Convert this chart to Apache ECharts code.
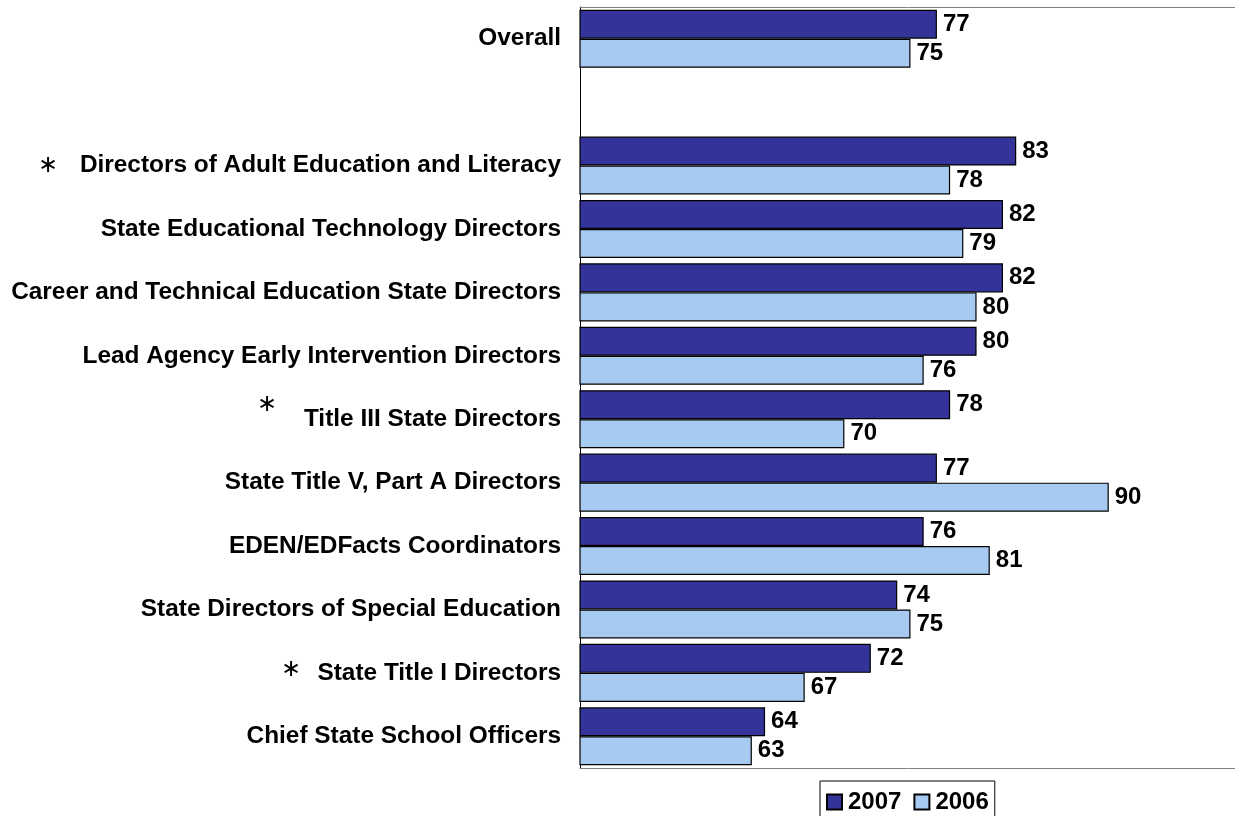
<!DOCTYPE html>
<html>
<head>
<meta charset="utf-8">
<script src="https://cdn.jsdelivr.net/npm/echarts@6/dist/echarts.min.js"></script>
<style>
  html, body { margin: 0; padding: 0; background: #ffffff; }
  #chart { width: 1235px; height: 816px; }
</style>
</head>
<body>
<div id="chart"></div>
<script>
// Respondent groups, top to bottom; the empty entry leaves a gap under "Overall"
const categories = [
  'Overall',
  '',
  'Directors of Adult Education and Literacy',
  'State Educational Technology Directors',
  'Career and Technical Education State Directors',
  'Lead Agency Early Intervention Directors',
  'Title III State Directors',
  'State Title V, Part A Directors',
  'EDEN/EDFacts Coordinators',
  'State Directors of Special Education',
  'State Title I Directors',
  'Chief State School Officers'
];
const values2007 = [77, null, 83, 82, 82, 80, 78, 77, 76, 74, 72, 64];
const values2006 = [75, null, 78, 79, 80, 76, 70, 90, 81, 75, 67, 63];
const seriesNames = ['2007', '2006'];
// Groups flagged with an asterisk next to their label
const starred = ['Directors of Adult Education and Literacy', 'Title III State Directors', 'State Title I Directors'];

const FONT = '"Liberation Sans", Arial, Helvetica, sans-serif';
const chart = echarts.init(document.getElementById('chart'), null, { renderer: 'canvas' });

const barLabel = {
  show: true,
  position: 'right',
  distance: 6,
  color: '#000000',
  fontFamily: FONT,
  fontWeight: 'bold',
  fontSize: 24
};

const hiddenValueAxis = {
  type: 'value', min: 50, max: 99.55,
  axisTick: { show: false }, axisLabel: { show: false }, splitLine: { show: false },
  axisLine: { show: true, lineStyle: { color: '#808080', width: 1 } }
};

chart.setOption({
  animation: false,
  backgroundColor: '#ffffff',
  grid: { left: 580, top: 7, right: 0, height: 761, show: false },
  xAxis: [
    Object.assign({ position: 'bottom' }, hiddenValueAxis),
    Object.assign({ position: 'top' }, hiddenValueAxis)
  ],
  yAxis: {
    type: 'category', data: categories, inverse: true,
    axisLine: { show: true, lineStyle: { color: '#000000', width: 1 } },
    axisTick: { show: false },
    axisLabel: {
      margin: 19, color: '#000000', fontFamily: FONT, fontWeight: 'bold', fontSize: 24.4,
      padding: [3, 0, 0, 0]
    }
  },
  legend: {
    data: seriesNames,
    left: 820, top: 781,
    orient: 'horizontal',
    padding: [9, 6, 8, 6],
    itemWidth: 15, itemHeight: 15, itemGap: 12,
    borderColor: '#000000', borderWidth: 1,
    icon: 'rect',
    textStyle: { color: '#000000', fontFamily: FONT, fontWeight: 'bold', fontSize: 24, padding: [0, 0, 0, 1] }
  },
  series: [
    {
      name: seriesNames[0], type: 'bar', data: values2007,
      barGap: '0%', barCategoryGap: '8.5%',
      itemStyle: { color: '#333399', borderColor: '#000000', borderWidth: 1.2 },
      label: barLabel
    },
    {
      name: seriesNames[1], type: 'bar', data: values2006,
      barGap: '0%', barCategoryGap: '8.5%',
      itemStyle: { color: '#a6caf0', borderColor: '#000000', borderWidth: 1.2 },
      label: barLabel
    }
  ]
});

// Asterisk markers placed beside the flagged labels
const starX = { 'Directors of Adult Education and Literacy': 48, 'Title III State Directors': 267, 'State Title I Directors': 291 };
const starDy = { 'Directors of Adult Education and Literacy': 0, 'Title III State Directors': -14, 'State Title I Directors': -3 };
chart.setOption({
  graphic: starred.map(function (name) {
    const y = chart.convertToPixel({ yAxisIndex: 0 }, name);
    return {
      type: 'text', x: starX[name], y: y + starDy[name],
      style: {
        text: '\u2217', fill: '#000000', fontFamily: '"DejaVu Sans", sans-serif', fontSize: 24,
        align: 'center', verticalAlign: 'middle'
      }
    };
  })
});
</script>
</body>
</html>
